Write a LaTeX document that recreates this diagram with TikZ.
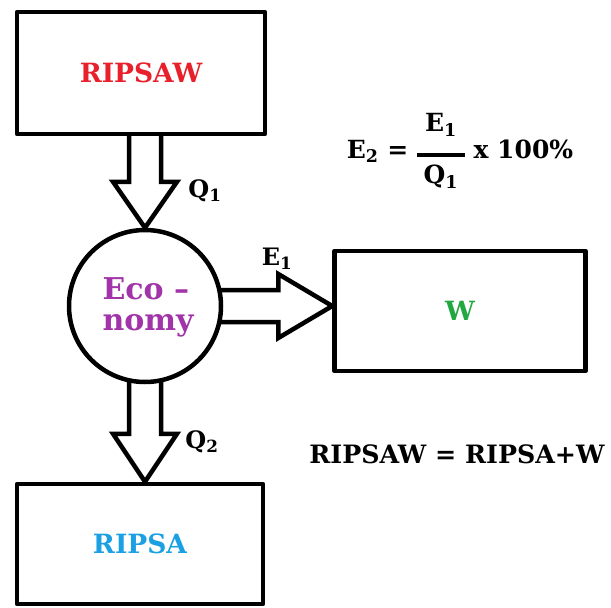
\documentclass[tikz,border=0pt]{standalone}
\usepackage{fontspec}
\setmainfont{DejaVu Serif}
\usetikzlibrary{calc,backgrounds}

\definecolor{ripred}{RGB}{232,32,44}
\definecolor{ecopurple}{RGB}{160,52,168}
\definecolor{wgreen}{RGB}{34,168,64}
\definecolor{ripblue}{RGB}{28,160,228}

\tikzset{
  box/.style={draw,line width=4.5pt,fill=white,font=\bfseries\fontsize{26.5}{30}\selectfont},
  fatarrow/.style={draw,line width=4.5pt,fill=white},
  lbl/.style={font=\bfseries\fontsize{24}{28}\selectfont}
}

% thick block arrow: from, tip, head length
\def\sw{16pt}
\def\hw{32pt}
\newcommand\fatarrow[3]{%
  \coordinate (h) at ($(#2)!#3!(#1)$);
  \draw[fatarrow]
    ($(#1)!\sw!90:(#2)$) -- ($(h)!\sw!90:(#2)$)
    -- ($(h)!\hw!90:(#2)$) -- (#2)
    -- ($(h)!\hw!-90:(#2)$) -- ($(h)!\sw!-90:(#2)$)
    -- ($(#1)!\sw!-90:(#2)$) -- cycle;}

\begin{document}
\begin{tikzpicture}[
  x=1pt,y=-1pt,
  line cap=round,
  line join=round
]
  \useasboundingbox (0,0) rectangle (611,608);

  % Boxes
  \node[box,minimum width=248,minimum height=122,text=ripred]
    (ripsaw) at (141,73) {RIPSAW};
  \node[box,minimum width=251,minimum height=120,text=wgreen]
    (w) at (460,311) {W};
  \node[box,minimum width=246,minimum height=120,text=ripblue]
    (ripsa) at (140,544) {RIPSA};

  % Economy
  \node[circle,draw,line width=4.5pt,fill=white,minimum size=152,inner sep=0pt]
    (eco) at (145,306) {};
  \node[font=\bfseries\fontsize{30}{31}\selectfont,text=ecopurple,align=left]
    (ecotext) at (148,307) {Eco –\\nomy};

  % Block arrows
  \begin{scope}[on background layer]
    \coordinate (q1s) at (eco.north |- ripsaw.center);
    \fatarrow{q1s}{eco.north}{46pt}
    \coordinate (e1t) at (w.west |- eco.center);
    \fatarrow{eco.center}{e1t}{54pt}
    \coordinate (q2t) at (eco.south |- ripsa.north);
    \fatarrow{eco.center}{q2t}{48pt}
  \end{scope}

  % Labels
  \node[lbl] (q1) at (205,191) {Q\textsubscript{1}};
  \node[lbl] (e1) at (277,259) {E\textsubscript{1}};
  \node[lbl] (q2) at (202,442) {Q\textsubscript{2}};

  % Formulas
  \node[lbl,font=\bfseries\fontsize{25}{29}\selectfont] (eff) at (460,152) {E\textsubscript{2} =
    $\vcenter{\hbox{\begin{tabular}{@{}c@{}}E\textsubscript{1}\\[-4pt]
    \rule{48pt}{3.5pt}\\[-2pt]Q\textsubscript{1}\end{tabular}}}$ x 100\%};
  \node[lbl,font=\bfseries\fontsize{25.3}{29}\selectfont] (sum) at (457,454) {RIPSAW = RIPSA+W};
\end{tikzpicture}
\end{document}
